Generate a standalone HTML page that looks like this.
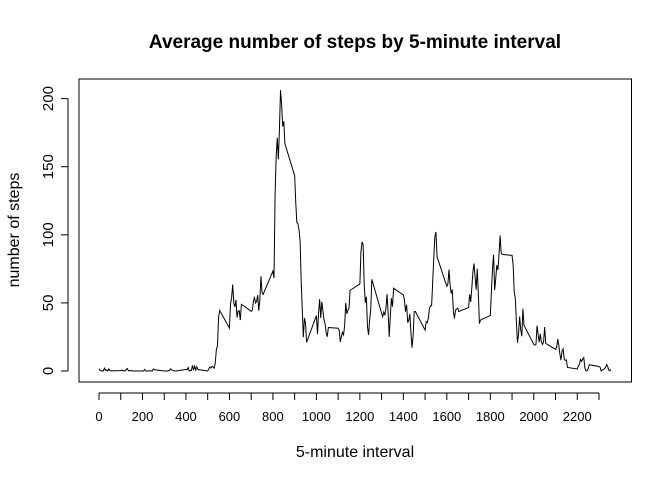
<!DOCTYPE html>
<html><head><meta charset="utf-8"><style>
html,body{margin:0;padding:0;background:#fff;}
svg{display:block;font-family:"Liberation Sans",Arial,sans-serif;}
</style></head><body>
<svg id="chart" width="672" height="480">
<text x="355" y="48" text-anchor="middle" font-size="19" font-weight="bold">Average number of steps by 5-minute interval</text>
<text x="355" y="457" text-anchor="middle" font-size="16">5-minute interval</text>
<text transform="translate(19,230) rotate(-90)" text-anchor="middle" font-size="16">number of steps</text>
<rect x="79" y="79" width="552.5" height="303" fill="none" stroke="#000" stroke-width="1"/>
<g id="xaxis"></g>
<g id="yaxis"></g>
<path id="line" fill="none" stroke="#000" stroke-width="1"/>
</svg>
<script>
const steps = [1.7,0.3,0.1,0.2,0.07,2.1,0.5,0.9,0,1.5,0.3,0.1,
0.3,0.7,0.15,0.34,0,1.1,1.8,0.17,0.2,0.4,0.26,0,
0,0,1.1,0,0,0.13,0,0.23,0,0,1.5,0.94,
0,0,0,0,0.2,0.6,1.6,0.6,0.5,0.08,0,0,
1.2,0.94,2.6,0,0.34,0.36,4.1,0.66,3.5,0.8,3.1,1.1,
0,1.6,3.0,2.2,3.3,2.96,2.1,6.1,16.0,18.3,39.5,44.5,
31.5,49.3,53.8,63.5,50.0,47.1,52.2,39.3,44.0,44.2,37.4,49.0,
43.8,44.4,50.5,54.5,49.9,50.98,55.7,44.3,52.3,69.5,57.8,56.2,
73.4,68.2,129.4,157.5,171.2,155.4,177.3,206.2,195.9,179.6,183.4,167.0,
143.5,124.0,109.1,108.1,103.7,95.97,66.2,45.2,24.8,38.8,34.98,21.1,
40.6,26.98,42.4,52.7,38.9,50.8,44.3,37.4,34.7,28.3,25.1,31.9,
31.4,29.7,21.3,25.5,28.4,26.5,33.4,49.98,42.0,44.6,46.0,59.2,
63.9,87.7,94.8,92.8,63.4,50.2,54.5,32.4,26.5,37.7,45.1,67.3,
42.3,39.9,43.3,40.98,46.2,56.4,42.8,25.1,39.97,53.5,47.3,60.8,
55.8,51.96,43.6,48.7,35.5,37.5,41.8,27.5,17.1,26.1,43.6,43.8,
30.0,36.1,35.5,38.8,45.96,47.8,48.1,65.3,82.9,98.7,102.1,83.96,
62.1,64.1,74.5,63.2,56.9,59.8,43.9,38.6,44.7,45.5,46.2,43.7,
46.6,56.3,50.7,61.2,72.7,78.9,68.9,59.7,75.1,56.5,34.8,37.5,
40.7,58.0,74.7,85.3,59.3,67.8,77.7,74.2,85.3,99.5,86.6,85.6,
84.9,77.8,58.0,53.4,36.3,20.7,27.4,40.0,30.2,25.5,45.7,33.5,
19.6,19.0,19.3,33.3,26.8,21.2,27.3,21.3,19.5,21.3,32.3,20.2,
15.9,17.2,23.5,19.2,12.5,8.0,14.7,16.3,8.7,7.8,8.1,2.6,
1.5,3.7,4.8,8.5,7.1,8.7,9.8,2.2,0.3,0.1,1.6,4.6,
3.3,2.8,0,0.8,0.96,1.6,2.6,4.7,3.3,0.6,0.2,1.1];
const intervals = [];
for (let h = 0; h < 24; h++) for (let m = 0; m < 60; m += 5) intervals.push(h * 100 + m);
const xTicks = [0,100,200,300,400,500,600,700,800,900,1000,1100,1200,1300,1400,1500,1600,1700,1800,1900,2000,2100,2200,2300];
const xTickLabels = ["0","","200","","400","","600","","800","","1000","","1200","","1400","","1600","","1800","","2000","","2200",""];
const yTicks = [0,50,100,150,200];
const yTickLabels = ["0","50","100","150","200"];

const NS = "http://www.w3.org/2000/svg";
const xs = v => 99 + v * (500 / 2300);
const ys = v => 371 - v * 1.362;

const line = document.getElementById('line');
line.setAttribute('d', intervals.map((iv, i) => (i ? 'L' : 'M') + xs(iv).toFixed(2) + ',' + ys(steps[i]).toFixed(2)).join(''));

const xa = document.getElementById('xaxis');
const xl = document.createElementNS(NS, 'line');
xl.setAttribute('x1', xs(xTicks[0])); xl.setAttribute('x2', xs(xTicks[xTicks.length - 1]));
xl.setAttribute('y1', 393); xl.setAttribute('y2', 393); xl.setAttribute('stroke', '#000');


xa.appendChild(xl);
xTicks.forEach((t, i) => {
  const tk = document.createElementNS(NS, 'line');
  tk.setAttribute('x1', xs(t)); tk.setAttribute('x2', xs(t));
  tk.setAttribute('y1', 393); tk.setAttribute('y2', 400); tk.setAttribute('stroke', '#000');
  
  
  xa.appendChild(tk);
  if (xTickLabels[i]) {
    const tx = document.createElementNS(NS, 'text');
    tx.setAttribute('x', xs(t)); tx.setAttribute('y', 421);
    tx.setAttribute('text-anchor', 'middle'); tx.setAttribute('font-size', '13');
    tx.textContent = xTickLabels[i];
    
    
    xa.appendChild(tx);
  }
});

const ya = document.getElementById('yaxis');
const yl = document.createElementNS(NS, 'line');
yl.setAttribute('x1', 68); yl.setAttribute('x2', 68);
yl.setAttribute('y1', ys(yTicks[0])); yl.setAttribute('y2', ys(yTicks[yTicks.length - 1])); yl.setAttribute('stroke', '#000');


ya.appendChild(yl);
yTicks.forEach((t, i) => {
  const tk = document.createElementNS(NS, 'line');
  tk.setAttribute('x1', 61); tk.setAttribute('x2', 68);
  tk.setAttribute('y1', ys(t)); tk.setAttribute('y2', ys(t)); tk.setAttribute('stroke', '#000');
  
  
  ya.appendChild(tk);
  const tx = document.createElementNS(NS, 'text');
  tx.setAttribute('transform', 'translate(53,' + ys(t) + ') rotate(-90)');
  tx.setAttribute('text-anchor', 'middle'); tx.setAttribute('font-size', '15');
  tx.textContent = yTickLabels[i];
  
  
  ya.appendChild(tx);
});
</script>
</body></html>
